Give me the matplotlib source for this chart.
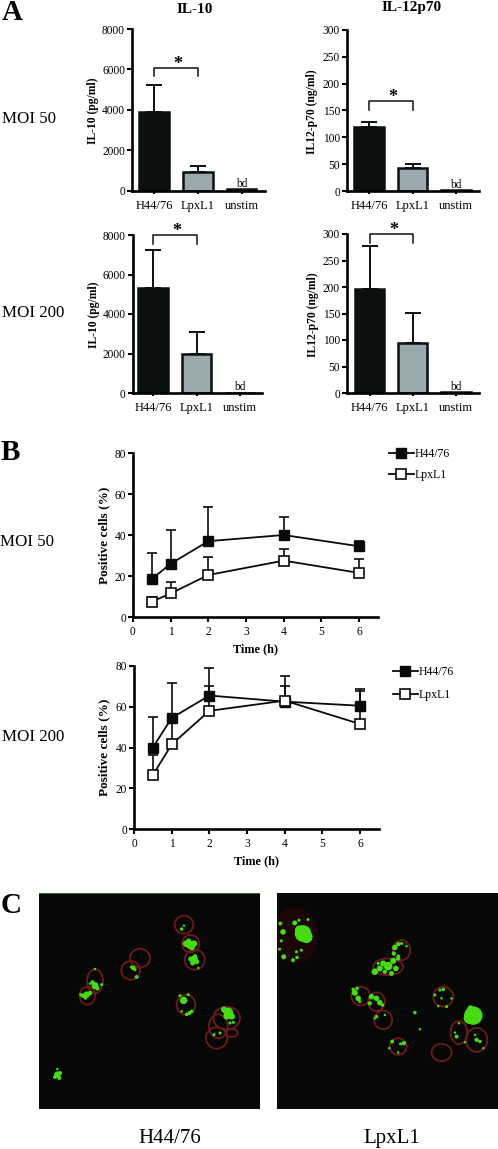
import matplotlib
matplotlib.use('Agg')
import matplotlib.pyplot as plt
from matplotlib.lines import Line2D
from matplotlib.patches import Ellipse

plt.rcParams['font.family'] = ['Liberation Serif', 'DejaVu Serif']

W = 498
H = 1149

categories = ['H44/76', 'LpxL1', 'unstim']
il10_50 = [3900, 900, 50]
il10_50_top = [5230, 1230]
il12_50 = [120, 43, 2]
il12_50_top = [128, 50]
il10_200 = [5300, 2000, 20]
il10_200_top = [7230, 3080]
il12_200 = [196, 95, 1]
il12_200_top = [277, 151]

times = [0.5, 1, 2, 4, 6]
h44_50 = [18.5, 26, 37, 40, 34.5]
h44_50_top = [31, 42.5, 53.5, 49, 37]
lpx_50 = [7.5, 11.5, 20.5, 27.5, 21.5]
lpx_50_top = [10, 17, 29.5, 33, 28.5]
h44_200 = [40, 54.5, 65.5, 62.5, 60.5]
h44_200_top = [55, 71.5, 79, 75, 68.5]
lpx_200 = [26.5, 41.5, 58, 63, 51.5]
lpx_200_top = [36.5, 55, 70, 70, 67.5]

# micrographs, positions in crop pixels (x, y, rx, ry) and (x, y, size)
rings_left = [(552, 165, 28, 27), (572, 222, 26, 26), (584, 270, 30, 30), (420, 265, 30, 28),
              (392, 302, 28, 28), (285, 335, 24, 36), (262, 378, 23, 27), (558, 405, 28, 30),
              (680, 445, 40, 34), (655, 470, 28, 36), (650, 505, 32, 32), (695, 490, 18, 12)]
blobs_left = [(558, 222, 14), (570, 226, 22), (582, 222, 14), (566, 214, 8), (576, 234, 10),
              (582, 270, 20), (572, 268, 8), (590, 276, 8), (578, 280, 8), (585, 260, 6),
              (400, 295, 7), (394, 292, 3), (405, 300, 3), (410, 322, 5),
              (285, 348, 16), (278, 338, 6), (292, 356, 6), (270, 342, 2), (305, 345, 3),
              (260, 375, 14), (248, 378, 6), (270, 370, 6), (256, 385, 4), (242, 375, 3),
              (551, 392, 18), (540, 378, 3), (565, 375, 3), (568, 430, 5), (575, 425, 4), (560, 434, 4),
              (545, 425, 2), (545, 178, 4), (552, 168, 2), (685, 428, 30), (672, 420, 12), (695, 440, 14),
              (680, 440, 14), (700, 458, 3), (690, 460, 3), (660, 490, 3), (642, 495, 3), (595, 295, 2),
              (285, 298, 2), (172, 615, 14), (165, 622, 5), (180, 610, 5), (178, 625, 5), (172, 598, 2)]
rings_right = [(425, 240, 26, 30), (385, 290, 45, 25), (303, 378, 28, 28), (350, 395, 25, 28),
               (370, 450, 27, 28), (415, 530, 25, 25), (550, 380, 30, 30), (545, 548, 30, 26),
               (597, 488, 25, 35), (650, 510, 32, 36)]
blobs_right = [(130, 190, 90), (140, 200, 50), (120, 180, 30), (105, 158, 8), (118, 150, 3), (145, 148, 3),
               (100, 270, 5), (112, 262, 4), (125, 240, 3), (110, 245, 3), (72, 260, 8), (62, 160, 5),
               (70, 185, 10), (65, 212, 3), (60, 237, 3),
               (640, 437, 110), (628, 445, 40), (650, 425, 20), (632, 415, 12),
               (405, 232, 10), (415, 222, 6), (425, 220, 3), (402, 250, 6), (415, 258, 4), (440, 228, 2),
               (385, 288, 24), (400, 272, 12), (370, 280, 12), (408, 295, 10), (360, 295, 12), (345, 305, 14),
               (395, 310, 8), (375, 305, 6), (355, 280, 3), (415, 265, 6),
               (285, 368, 12), (295, 385, 10), (280, 358, 4), (292, 355, 4), (300, 395, 3),
               (335, 380, 10), (350, 385, 10), (360, 398, 10), (330, 400, 6), (368, 405, 4),
               (550, 358, 4), (540, 360, 3), (525, 375, 3), (575, 385, 2), (560, 410, 3), (535, 408, 2),
               (545, 385, 2), (465, 428, 4), (480, 478, 2), (350, 440, 4), (375, 435, 2), (345, 445, 2),
               (397, 515, 5), (432, 520, 6), (422, 522, 3), (415, 548, 2), (388, 535, 2),
               (590, 500, 5), (597, 460, 2), (585, 488, 2), (650, 510, 6), (660, 515, 4), (670, 535, 2),
               (615, 517, 2), (645, 495, 2)]


def make_axes(left, top, right, bottom):
    return plt.axes([left / W, 1 - bottom / H, (right - left) / W, (bottom - top) / H])


def style_axes(ax):
    for s in ['top', 'right']:
        ax.spines[s].set_visible(False)
    for s in ['left', 'bottom']:
        ax.spines[s].set_linewidth(1.9)
    ax.tick_params(axis='both', width=1.5, length=3.5, pad=1.5, labelsize=8.3)
    ax.patch.set_alpha(0)


def bar_panel(box, centers, values, tops, ymax, step, ylabel, bracket, labelx):
    ax = make_axes(*box)
    px = (centers[2] - centers[0]) / 2.0
    ax.set_xlim((box[0] - centers[0]) / px, (box[2] - centers[0]) / px)
    ax.set_ylim(0, ymax)
    ax.bar([0, 1, 2], values, width=0.68, color=['#0a0f0f', '#9aa9ad', '#0a0f0f'],
           edgecolor='#0a0f0f', linewidth=1.8)
    ax.errorbar([0, 1], values[:2], yerr=[[0, 0], [tops[0] - values[0], tops[1] - values[1]]],
                fmt='none', ecolor='#0a0f0f', elinewidth=1.4, capsize=5.7, capthick=1.4)
    ax.set_xticks([0, 1, 2])
    ax.set_xticklabels(categories)
    ax.set_yticks(range(0, ymax + 1, step))
    style_axes(ax)
    ax.tick_params(axis='x', pad=4, labelsize=9, length=2.5)
    ax.text(2, ymax * 0.003, 'bd', ha='center', va='bottom', fontsize=8.3)
    ax.plot([0, 0, 1, 1], [bracket[0], bracket[1], bracket[1], bracket[0]], color='#111111',
            lw=1.1, clip_on=False)
    ax.text(0.55, bracket[1] - ymax * 0.032, '*', ha='center', va='bottom', fontsize=13,
            fontweight='bold', clip_on=False)
    fig.text(labelx / W, 1 - (box[1] + box[3]) / 2.0 / H - 0.001, ylabel, rotation=90, ha='center',
             va='center', fontsize=8.4, fontweight='bold')
    return ax


def line_panel(box, h44, h44_top, lpx, lpx_top, legend_box, spacing, labelx):
    ax = make_axes(*box)
    ax.set_xlim(0, 6.5)
    ax.set_ylim(0, 80)
    up = [t - v for t, v in zip(h44_top, h44)]
    low = [0] * len(times)
    ax.errorbar(times, h44, yerr=[low, up], color='#0a0a0a', marker='s', ms=6.5, mfc='#0a0a0a',
                mec='#0a0a0a', lw=1.3, elinewidth=1.2, capsize=3.6, capthick=1.2, clip_on=False)
    up = [t - v for t, v in zip(lpx_top, lpx)]
    ax.errorbar(times, lpx, yerr=[low, up], color='#0a0a0a', marker='s', ms=6.5, mfc='white',
                mec='#0a0a0a', mew=1.2, lw=1.3, elinewidth=1.2, capsize=3.6, capthick=1.2,
                clip_on=False)
    ax.set_xticks(range(7))
    ax.set_yticks(range(0, 81, 20))
    style_axes(ax)
    ax.tick_params(axis='x', pad=3)
    ax.set_xlabel('Time (h)', fontsize=8.8, fontweight='bold', labelpad=4)
    fig.text(labelx / W, 1 - (box[1] + box[3]) / 2.0 / H, 'Positive cells (%)', rotation=90, ha='center',
             va='center', fontsize=9.5, fontweight='bold')
    a = Line2D([], [], color='#0a0a0a', marker='s', ms=6.5, mfc='#0a0a0a', mec='#0a0a0a', lw=1.3)
    b = Line2D([], [], color='#0a0a0a', marker='s', ms=6.5, mfc='white', mec='#0a0a0a', mew=1.2, lw=1.3)
    fig.legend(handles=[a, b], labels=['H44/76', 'LpxL1'], loc='upper left',
               bbox_to_anchor=(legend_box[0] / W, 1 - legend_box[1] / H),
               frameon=False, fontsize=8.5, handlelength=2.1, handletextpad=0.1, labelspacing=spacing,
               borderpad=0, borderaxespad=0)
    return ax


def micrograph(box, xlim, ylim, rings, blobs, haze=None, top_line=None):
    ax = make_axes(*box)
    ax.set_facecolor('#050807')
    ax.set_xlim(*xlim)
    ax.set_ylim(*ylim)
    ax.set_xticks([])
    ax.set_yticks([])
    for s in ax.spines.values():
        s.set_visible(False)
    if haze:
        ax.add_patch(Ellipse(haze[:2], haze[2] * 2, haze[3] * 2, fc='#1c0706', ec='none'))
    for x, y, rx, ry in rings:
        ax.add_patch(Ellipse((x, y), rx * 2, ry * 2, fc='none', ec='#701a18', lw=1.3))
    ax.scatter([b[0] for b in blobs], [b[1] for b in blobs], s=[b[2] * 1.6 for b in blobs],
               c='#45dd12', edgecolors='none', zorder=3)
    if top_line:
        ax.axhline(ylim[1] + 1, color=top_line, lw=1.2)
    return ax


fig = plt.figure(figsize=(W / 100, H / 100), dpi=100, facecolor='white')

bar_panel((132, 29, 265, 190.5), (154, 197.5, 241.5), il10_50, il10_50_top, 8000, 2000,
          'IL-10 (pg/ml)', (5670, 6083), 93)
bar_panel((347, 30, 479, 191), (369, 412.5, 456), il12_50, il12_50_top, 300, 50,
          'IL12-p70 (ng/ml)', (151, 168), 312)
bar_panel((132.5, 235, 262, 393), (153, 196, 240), il10_200, il10_200_top, 8000, 2000,
          'IL-10 (pg/ml)', (7560, 7990), 94)
bar_panel((347, 234, 479, 393), (369.5, 412.5, 456), il12_200, il12_200_top, 300, 50,
          'IL12-p70 (ng/ml)', (283, 300), 313)

line_panel((133, 453, 378, 617), h44_50, h44_50_top, lpx_50, lpx_50_top, (389, 448), 0.75, 104)
line_panel((134, 666, 379, 829), h44_200, h44_200_top, lpx_200, lpx_200_top, (393, 666), 0.95, 104)

micrograph((39, 893, 260, 1109), (117, 780), (718, 70), rings_left, blobs_left, top_line='#3f7a20')
micrograph((277, 893, 498, 1109), (52, 714), (718, 68), rings_right, blobs_right, haze=(105, 195, 70, 85))

fig.text(2 / W, 1 - 20.5 / H, 'A', fontsize=21, fontweight='bold')
fig.text(1 / W, 1 - 460 / H, 'B', fontsize=21, fontweight='bold')
fig.text(1 / W, 1 - 913 / H, 'C', fontsize=21, fontweight='bold')
fig.text(195 / W, 1 - 13 / H, 'IL-10', fontsize=11, fontweight='bold', ha='center')
fig.text(412 / W, 1 - 11 / H, 'IL-12p70', fontsize=11, fontweight='bold', ha='center')
fig.text(2 / W, 1 - 123 / H, 'MOI 50', fontsize=12.2)
fig.text(2 / W, 1 - 317 / H, 'MOI 200', fontsize=12.2)
fig.text(0 / W, 1 - 546 / H, 'MOI 50', fontsize=12.2)
fig.text(2 / W, 1 - 741 / H, 'MOI 200', fontsize=12.2)
fig.text(170 / W, 1 - 1143 / H, 'H44/76', fontsize=15, ha='center')
fig.text(392 / W, 1 - 1143 / H, 'LpxL1', fontsize=15, ha='center')

fig.savefig('out.png', dpi=100)
